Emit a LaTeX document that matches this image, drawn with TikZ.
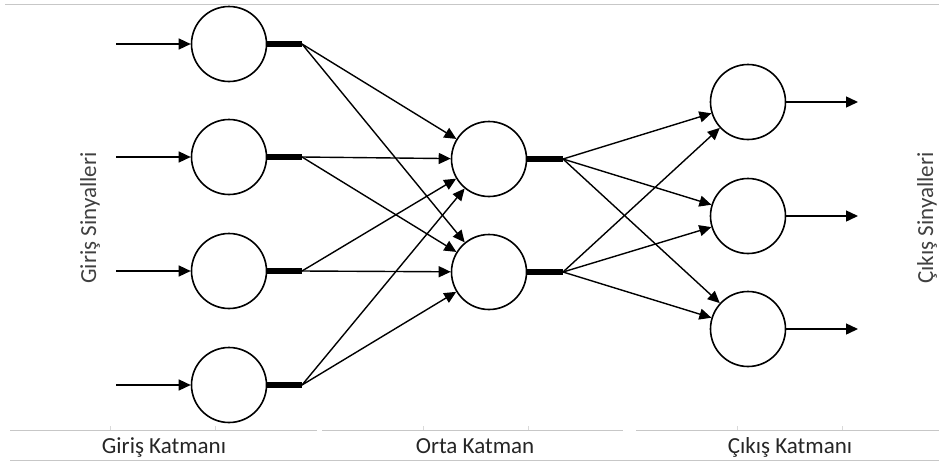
\documentclass[tikz,border=0pt]{standalone}
\usepackage{fontspec}
\setmainfont{Carlito}
\usetikzlibrary{arrows.meta}
\begin{document}
\begin{tikzpicture}[x=1pt,y=-1pt,
  neuron/.style={draw=black,line width=1.6pt,circle,minimum size=75pt,inner sep=0pt,fill=white},
  sig/.style={line width=1.4pt,-{Triangle[length=12pt,width=11pt]}},
  bar/.style={line width=5.5pt},
  rule/.style={draw=black!22,line width=1pt},
  lbl/.style={font=\fontsize{23}{25}\selectfont,text=black!85,anchor=base},
  side/.style={font=\fontsize{23}{25}\selectfont,text=black!75,rotate=90}]
\useasboundingbox (0,0) rectangle (939,464);
\fill[white] (0,0) rectangle (939,464);

% thin frame line at the top
\draw[rule] (5,4) -- (939,4);

% input layer
\foreach \i/\y in {1/44,2/157,3/271,4/385}{
  \node[neuron] (in\i) at (229,\y) {};
  \coordinate (src\i) at (116,\y);
  \coordinate (ib\i) at (302,\y);
  \draw[sig] (src\i) -- (in\i);
  \draw[bar] (in\i.east) -- (ib\i);
}

% hidden layer
\foreach \j/\y in {1/159,2/272}{
  \node[neuron] (h\j) at (489,\y) {};
  \coordinate (hb\j) at (563,\y);
  \draw[bar] (h\j.east) -- (hb\j);
}

% output layer
\foreach \k/\y in {1/102,2/216,3/329}{
  \node[neuron] (o\k) at (748,\y) {};
  \coordinate (out\k) at (858,\y);
  \draw[sig] (o\k) -- (out\k);
}

% input -> hidden connections
\foreach \i in {1,2,3,4}{
  \foreach \j in {1,2}{
    \draw[sig] (ib\i) -- (h\j);
  }
}

% hidden -> output connections
\foreach \j in {1,2}{
  \foreach \k in {1,2,3}{
    \draw[sig] (hb\j) -- (o\k);
  }
}

% side labels
\node[side] (insig) at (90,218) {Giriş Sinyalleri};
\node[side] (outsig) at (927,218) {Çıkış Sinyalleri};

% layer caption row
\draw[rule] (10,430) -- (317,430);
\draw[rule] (322,430) -- (623,430);
\draw[rule] (636,430) -- (939,430);
\draw[rule] (10,460) -- (939,460);
\foreach \x in {110,215,423,528,737,842}{
  \draw[draw=black!15,line width=0.8pt] (\x,426) -- (\x,430);
}
\node[lbl] (capin) at (164,453) {Giriş Katmanı};
\node[lbl] (capmid) at (475,453) {Orta Katman};
\node[lbl] (capout) at (790,453) {Çıkış Katmanı};
\end{tikzpicture}
\end{document}
